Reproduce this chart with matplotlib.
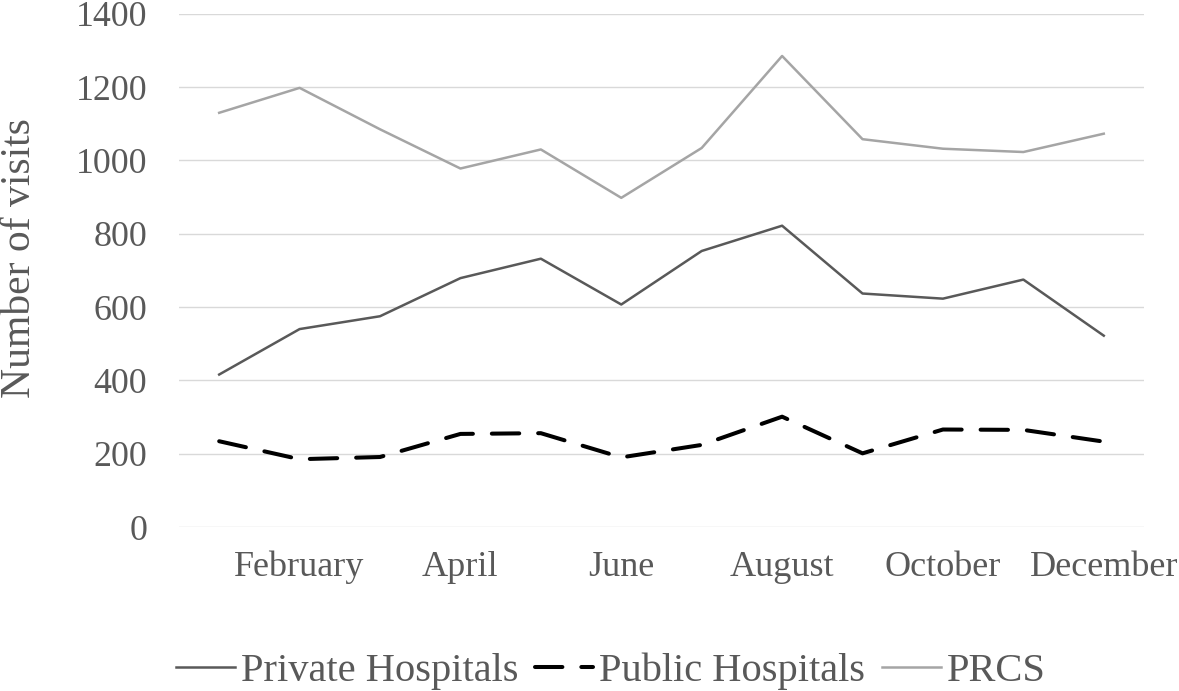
import matplotlib.pyplot as plt
import numpy as np

months = ["January", "February", "March", "April", "May", "June",
          "July", "August", "September", "October", "November", "December"]

private_hospitals = [416, 540, 575, 679, 732, 607, 753, 822, 637, 623, 675, 522]
public_hospitals = [234, 185, 191, 254, 256, 190, 224, 301, 201, 266, 265, 233]
prcs = [1130, 1198, 1085, 978, 1030, 898, 1034, 1285, 1058, 1032, 1023, 1073]

text_color = "#595959"

plt.rcParams['font.family'] = ['Liberation Serif', 'DejaVu Serif']

fig = plt.figure(figsize=(11.79, 6.91), dpi=100)
ax = fig.add_axes([0.1518, 0.2373, 0.8185, 0.7427])

x = np.arange(len(months))

ax.plot(x, private_hospitals, color="#595959", linewidth=1.8,
        solid_joinstyle='round', label="Private Hospitals")
ax.plot(x, public_hospitals, color="#000000", linewidth=2.9,
        dashes=(6.8, 4.7), dash_capstyle='round', label="Public Hospitals")
ax.plot(x, prcs, color="#a5a5a5", linewidth=1.8,
        solid_joinstyle='round', label="PRCS")

ax.set_xlim(-0.5, len(months) - 0.5)
ax.set_ylim(0, 1400)
ax.set_yticks(np.arange(0, 1401, 200))
ax.set_xticks(x[1::2])
ax.set_xticklabels(months[1::2])

ax.grid(axis='y', color="#d9d9d9", linewidth=1.0)
ax.set_axisbelow(True)
for s in ax.spines.values():
    s.set_visible(False)

ax.tick_params(axis='y', length=0, pad=23, labelsize=25.8, labelcolor=text_color)
ax.tick_params(axis='x', length=0, pad=17, labelsize=26, labelcolor=text_color)

# y label: its anchor is the right edge of the rotated text
ax.set_ylabel("Number of visits", fontsize=30, color=text_color)
ax.yaxis.set_label_coords(-0.145, 0.525)

leg = fig.legend(loc='center', bbox_to_anchor=(0.518, 0.029), ncol=3,
                 frameon=False, fontsize=29.2, handlelength=1.45,
                 handletextpad=0.15, columnspacing=0.4,
                 labelcolor=text_color)

fig.savefig("out.png", dpi=100)
